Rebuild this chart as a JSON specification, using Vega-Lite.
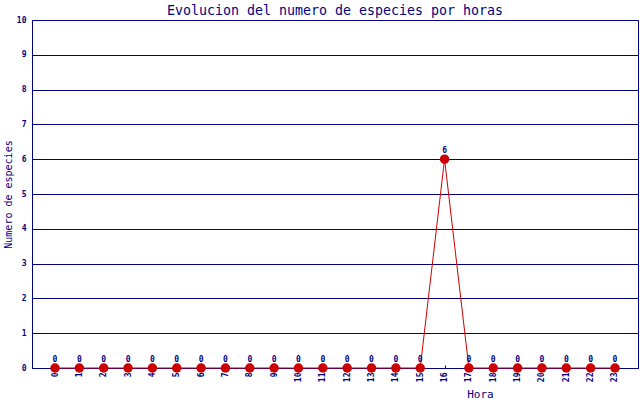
{
  "$schema": "https://vega.github.io/schema/vega-lite/v6.json",
  "width": 606,
  "height": 348,
  "autosize": {"type": "none"},
  "padding": {"left": 32, "top": 20, "right": 2, "bottom": 32},
  "background": "white",
  "config": {
    "view": {"stroke": "#000080", "strokeWidth": 1},
    "font": "DejaVu Sans Mono"
  },
  "title": {
    "text": "Evolucion del numero de especies por horas",
    "font": "DejaVu Sans Mono",
    "fontSize": 13.3,
    "fontWeight": "normal",
    "color": "#000080",
    "anchor": "middle",
    "offset": -1
  },
  "data": {
    "values": [
      {"hora": 0, "especies": 0},
      {"hora": 1, "especies": 0},
      {"hora": 2, "especies": 0},
      {"hora": 3, "especies": 0},
      {"hora": 4, "especies": 0},
      {"hora": 5, "especies": 0},
      {"hora": 6, "especies": 0},
      {"hora": 7, "especies": 0},
      {"hora": 8, "especies": 0},
      {"hora": 9, "especies": 0},
      {"hora": 10, "especies": 0},
      {"hora": 11, "especies": 0},
      {"hora": 12, "especies": 0},
      {"hora": 13, "especies": 0},
      {"hora": 14, "especies": 0},
      {"hora": 15, "especies": 0},
      {"hora": 16, "especies": 6},
      {"hora": 17, "especies": 0},
      {"hora": 18, "especies": 0},
      {"hora": 19, "especies": 0},
      {"hora": 20, "especies": 0},
      {"hora": 21, "especies": 0},
      {"hora": 22, "especies": 0},
      {"hora": 23, "especies": 0}
    ]
  },
  "encoding": {
    "x": {
      "field": "hora",
      "type": "ordinal",
      "scale": {"type": "point", "padding": 0.945},
      "axis": {
        "title": "Hora",
        "titleFont": "DejaVu Sans Mono",
        "titleFontSize": 11,
        "titleFontWeight": "normal",
        "titleColor": "#000080",
        "titleX": 448,
        "titleY": 26,
        "titleAlign": "center",
        "titleBaseline": "middle",
        "labelAngle": -90,
        "labelFontSize": 8,
        "labelFontWeight": "bold",
        "labelColor": "#000080",
        "labelPadding": 7,
        "domainColor": "#000080",
        "tickColor": "#000080",
        "tickSize": -3,
        "grid": false
      }
    },
    "y": {
      "field": "especies",
      "type": "quantitative",
      "scale": {"domain": [0, 10], "nice": false},
      "axis": {
        "title": "Numero de especies",
        "titleFont": "DejaVu Sans Mono",
        "titleFontSize": 10,
        "titleFontWeight": "normal",
        "titleColor": "#000080",
        "titleAngle": -90,
        "titleX": -24,
        "titleY": 174,
        "titleAlign": "center",
        "titleBaseline": "middle",
        "values": [0, 1, 2, 3, 4, 5, 6, 7, 8, 9, 10],
        "labelFontSize": 8,
        "labelFontWeight": "bold",
        "labelColor": "#000080",
        "labelPadding": 6,
        "ticks": false,
        "domainColor": "#000080",
        "grid": true,
        "gridColor": "#000080",
        "gridOpacity": 1,
        "gridWidth": 1
      }
    }
  },
  "layer": [
    {"mark": {"type": "line", "color": "#CC0000", "strokeWidth": 1}},
    {"mark": {"type": "circle", "color": "#CC0000", "size": 90, "opacity": 1}},
    {
      "mark": {"type": "text", "dy": -8, "fontSize": 8, "fontWeight": "bold", "color": "#000080"},
      "encoding": {"text": {"field": "especies", "type": "quantitative"}}
    }
  ]
}
